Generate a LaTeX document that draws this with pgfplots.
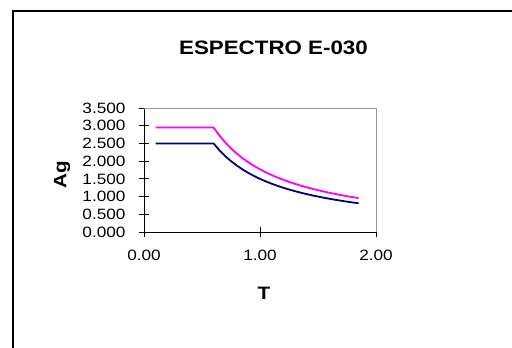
\documentclass[border=0pt]{standalone}
\usepackage{fontspec}
\setmainfont{Liberation Sans}[FakeStretch=1.15]
\usepackage{pgfplots}
\pgfplotsset{compat=1.18}
\usepackage{pgfplotstable}
\definecolor{specmag}{RGB}{255,0,255}
\definecolor{specnavy}{RGB}{0,0,128}
\pgfplotstableread{
T Sa
0.10 2.950
0.15 2.950
0.20 2.950
0.25 2.950
0.30 2.950
0.35 2.950
0.40 2.950
0.45 2.950
0.50 2.950
0.55 2.950
0.60 2.950
0.65 2.723
0.70 2.529
0.75 2.360
0.80 2.213
0.85 2.082
0.90 1.967
0.95 1.863
1.00 1.770
1.05 1.686
1.10 1.609
1.15 1.539
1.20 1.475
1.25 1.416
1.30 1.362
1.35 1.311
1.40 1.264
1.45 1.221
1.50 1.180
1.55 1.142
1.60 1.106
1.65 1.073
1.70 1.041
1.75 1.011
1.80 0.983
1.85 0.957
}\magdata
\pgfplotstableread{
T Sa
0.10 2.500
0.15 2.500
0.20 2.500
0.25 2.500
0.30 2.500
0.35 2.500
0.40 2.500
0.45 2.500
0.50 2.500
0.55 2.500
0.60 2.500
0.65 2.308
0.70 2.143
0.75 2.000
0.80 1.875
0.85 1.765
0.90 1.667
0.95 1.579
1.00 1.500
1.05 1.429
1.10 1.364
1.15 1.304
1.20 1.250
1.25 1.200
1.30 1.154
1.35 1.111
1.40 1.071
1.45 1.034
1.50 1.000
1.55 0.968
1.60 0.938
1.65 0.909
1.70 0.882
1.75 0.857
1.80 0.833
1.85 0.811
}\navydata
\begin{document}
\begin{tikzpicture}[x=1bp,y=1bp]
\useasboundingbox (0,0) rectangle (512,347);
\clip (0,0) rectangle (512,347);
\fill[white] (0,0) rectangle (512,347);
\draw[line width=2bp, black] (12.5,-20) -- (12.5,335.5) -- (540,335.5);
\node[font=\fontsize{19.5}{22}\selectfont\bfseries, anchor=base] at (273.5,293) {ESPECTRO E-030};
\begin{axis}[
  at={(144bp,115bp)}, anchor=south west,
  scale only axis, width=232bp, height=124bp,
  xmin=0, xmax=2, ymin=0, ymax=3.5,
  axis x line*=bottom, axis y line*=left,
  axis line style={black, line width=0.8bp},
  xtick={0,1,2}, ytick distance=0.5,
  minor tick num=0,
  tick align=center, major tick length=10bp,
  tick style={black, line width=0.8bp},
  /pgf/number format/assume math mode=true,
  ticklabel style={font=\fontsize{15}{17}\selectfont},
  yticklabel style={/pgf/number format/.cd, fixed, fixed zerofill, precision=3, /tikz/.cd, xshift=-10bp},
  xticklabel style={/pgf/number format/.cd, fixed, fixed zerofill, precision=2, /tikz/.cd, yshift=-10bp},
  xlabel={T}, ylabel={Ag},
  xlabel style={at={([xshift=4bp,yshift=-61.5bp]rel axis cs:0.5,0)}, anchor=center},
  ylabel style={at={([xshift=-82bp,yshift=-5bp]rel axis cs:0,0.5)}, anchor=center},
  label style={font=\fontsize{18}{20}\selectfont\bfseries},
  clip=false,
]
\draw[gray!80, line width=0.8bp] (rel axis cs:0,1) -- (rel axis cs:1,1) -- (rel axis cs:1,0);
\addplot[specmag, line width=1.8bp, no markers] table[x=T,y=Sa] {\magdata};
\addplot[specnavy, line width=1.8bp, no markers] table[x=T,y=Sa] {\navydata};
\end{axis}
\end{tikzpicture}
\end{document}
